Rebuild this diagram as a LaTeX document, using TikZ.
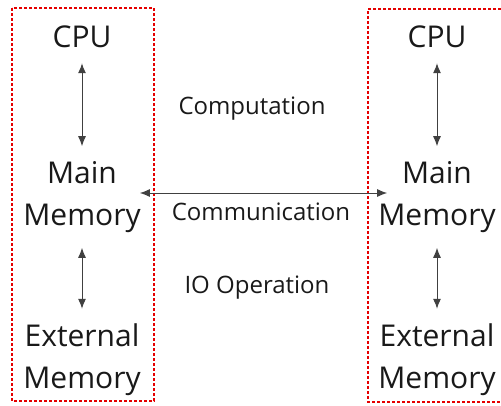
\documentclass[tikz,border=0pt]{standalone}
\usepackage{fontspec}
\setmainfont{Open Sans}
\usetikzlibrary{arrows.meta}

\begin{document}
\begin{tikzpicture}[x=1pt, y=1pt,
  unit/.style={font=\fontsize{30}{42}\selectfont, align=center, text=black!90, inner xsep=0pt, inner ysep=15pt},
  tag/.style={font=\fontsize{24}{28}\selectfont, text=black!90, anchor=base},
  link/.style={{Latex[length=10pt,width=8pt]}-{Latex[length=10pt,width=8pt]}, black!75, line width=1pt},
  frame/.style={red!90!black, line width=1.1pt, dash pattern=on 3pt off 2pt}]
\useasboundingbox (0,0) rectangle (501,-405);
% Machine on the left
\draw[frame] (12,-8) rectangle (154,-401);
\node[unit] (cpuL) at (82,-37) {CPU};
\node[unit] (mainL) at (82,-197) {Main\\Memory};
\node[unit] (extL) at (82,-360) {External\\Memory};
\draw[link] (cpuL) -- (mainL);
\draw[link] (mainL) -- (extL);
% Machine on the right, open at the page edge
\draw[frame] (501,-9) -- (368,-9) -- (368,-402) -- (501,-402);
\node[unit] (cpuR) at (437,-37) {CPU};
\node[unit] (mainR) at (437,-197) {Main\\Memory};
\node[unit] (extR) at (437,-360) {External\\Memory};
\draw[link] (cpuR) -- (mainR);
\draw[link] (mainR) -- (extR);
% Between the two
\draw[link, shorten <=-1pt, shorten >=-9pt] (mainL.east |- 0,-193) -- (mainR.west |- 0,-193);
\node[tag] (comp) at (252,-114) {Computation};
\node[tag] (comm) at (261,-220) {Communication};
\node[tag] (io) at (257,-293) {IO Operation};
\end{tikzpicture}
\end{document}
